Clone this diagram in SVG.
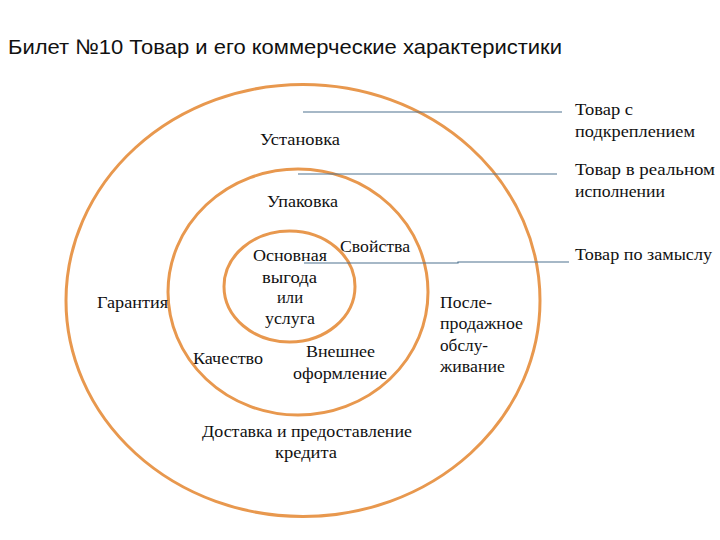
<svg xmlns="http://www.w3.org/2000/svg" width="720" height="540" viewBox="0 0 720 540">
<style>
.ring{fill:none;stroke:#E8984E;stroke-width:3}
.ln{fill:none;stroke:#4E7390;stroke-width:1.2}
.t{font-family:"Liberation Serif","Times New Roman",serif;font-size:16px;fill:#111}
.title{font-family:"Liberation Sans",Arial,sans-serif;font-size:21px;fill:#111}
</style>
<rect width="720" height="540" fill="#fff"/>
<text class="title" x="8" y="54" textLength="554" lengthAdjust="spacingAndGlyphs">Билет №10 Товар и его коммерческие характеристики</text>
<g id="outer"><ellipse class="ring" cx="303" cy="300.5" rx="237" ry="216"/></g>
<g id="middle"><ellipse class="ring" cx="298" cy="292" rx="130" ry="123"/></g>
<g id="inner"><ellipse class="ring" cx="289.5" cy="286.5" rx="65.5" ry="55.5"/></g>
<g id="connectors">
<line class="ln" x1="303" y1="112" x2="562" y2="112"/>
<line class="ln" x1="298" y1="174" x2="557" y2="174"/>
<polyline class="ln" points="304,263 458,263 458,262 569,262"/>
</g>
<g id="labels-outer">
<text class="t" x="260" y="145" textLength="80" lengthAdjust="spacingAndGlyphs">Установка</text>
<text class="t" x="97" y="308" textLength="71" lengthAdjust="spacingAndGlyphs">Гарантия</text>
<text class="t" x="440" y="308" textLength="52" lengthAdjust="spacingAndGlyphs">После-</text>
<text class="t" x="440" y="329" textLength="83" lengthAdjust="spacingAndGlyphs">продажное</text>
<text class="t" x="440" y="351" textLength="48" lengthAdjust="spacingAndGlyphs">обслу-</text>
<text class="t" x="440" y="372" textLength="65" lengthAdjust="spacingAndGlyphs">живание</text>
<text class="t" x="202" y="437" textLength="210" lengthAdjust="spacingAndGlyphs">Доставка и предоставление</text>
<text class="t" x="275" y="458" textLength="62" lengthAdjust="spacingAndGlyphs">кредита</text>
</g>
<g id="labels-middle">
<text class="t" x="267" y="207" textLength="71" lengthAdjust="spacingAndGlyphs">Упаковка</text>
<text class="t" x="340" y="252" textLength="70" lengthAdjust="spacingAndGlyphs">Свойства</text>
<text class="t" x="193" y="364" textLength="70" lengthAdjust="spacingAndGlyphs">Качество</text>
<text class="t" x="306" y="357" textLength="69" lengthAdjust="spacingAndGlyphs">Внешнее</text>
<text class="t" x="293" y="379" textLength="94" lengthAdjust="spacingAndGlyphs">оформление</text>
</g>
<g id="labels-inner">
<text class="t" x="253" y="261" textLength="74" lengthAdjust="spacingAndGlyphs">Основная</text>
<text class="t" x="262" y="283" textLength="55" lengthAdjust="spacingAndGlyphs">выгода</text>
<text class="t" x="277" y="303" textLength="26" lengthAdjust="spacingAndGlyphs">или</text>
<text class="t" x="265" y="324" textLength="50" lengthAdjust="spacingAndGlyphs">услуга</text>
</g>
<g id="labels-right">
<text class="t" x="575" y="115" textLength="58" lengthAdjust="spacingAndGlyphs">Товар с</text>
<text class="t" x="575" y="137" textLength="120" lengthAdjust="spacingAndGlyphs">подкреплением</text>
<text class="t" x="575" y="175" textLength="140" lengthAdjust="spacingAndGlyphs">Товар в реальном</text>
<text class="t" x="575" y="197" textLength="90" lengthAdjust="spacingAndGlyphs">исполнении</text>
<text class="t" x="575" y="260" textLength="137" lengthAdjust="spacingAndGlyphs">Товар по замыслу</text>
</g>
</svg>
